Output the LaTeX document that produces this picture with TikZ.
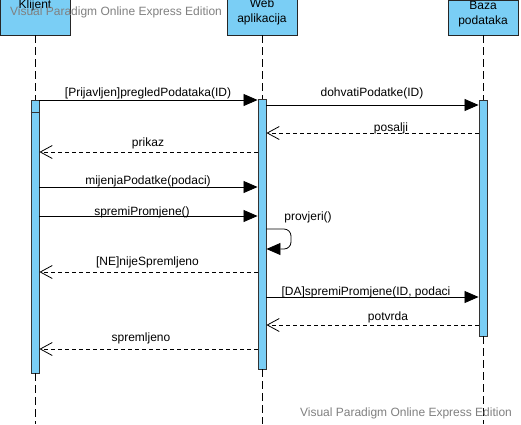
\documentclass[tikz,border=0pt]{standalone}
\usepackage{fontspec}
\setmainfont{Liberation Sans}
\usetikzlibrary{arrows.meta}
\definecolor{vpblue}{RGB}{122,206,245}
\definecolor{wmgray}{RGB}{128,128,128}
\tikzset{
  head/.style={draw=black!85, fill=vpblue, line width=0.9pt, minimum width=70pt, inner sep=0pt, font=\fontsize{12}{15}\selectfont, align=center},
  actbar/.style={draw=black!80, fill=vpblue, line width=0.9pt, minimum width=8pt, inner sep=0pt},
  lifeline/.style={line width=0.8pt, dash pattern=on 8pt off 4pt},
  callmsg/.style={line width=0.8pt, -{Triangle[length=14pt,width=12pt]}},
  replymsg/.style={line width=0.8pt, dash pattern=on 4pt off 3pt, -{Straight Barb[length=12pt,width=13pt,line width=0.8pt]}},
  lbl/.style={font=\fontsize{12}{15}\selectfont, inner sep=0pt},
  wm/.style={font=\fontsize{12}{15}\selectfont, text=wmgray, inner sep=0pt}
}
\begin{document}
\begin{tikzpicture}[x=1pt,y=-1pt]
\useasboundingbox (0,0) rectangle (521,424);
\clip (0,0) rectangle (521,424);
% lifelines
\coordinate (kend) at (35,424);
\coordinate (wend) at (262,424);
\coordinate (bend) at (483,424);
% heads
\node[head, minimum height=60pt] (klijent) at (35,5) {Klijent};
\node[head, minimum height=47pt] (web) at (262,11.5) {Web\\aplikacija};
\node[head, minimum height=35pt] (baza) at (483,17.5) {};
\node[lbl, align=center, font=\fontsize{12}{15}\selectfont] (bazat) at (483,14) {Baza\\podataka};
% activation bars
\node[actbar, minimum height=273pt] (ka) at (35,236.5) {};
\node[actbar, minimum height=270pt] (wa) at (262,234) {};
\node[actbar, minimum height=236pt] (ba) at (483,218) {};
\draw[lifeline] (klijent.south) -- (ka.north);
\draw[lifeline] (ka.south) -- (kend);
\draw[lifeline] (web.south) -- (wa.north);
\draw[lifeline] (wa.south) -- (wend);
\draw[lifeline] (baza.south) -- (ba.north);
\draw[lifeline] (ba.south) -- (bend);
\draw[line width=0.9pt, black!80] (ka.west |- 0,112) -- (ka.east |- 0,112);
% messages
\draw[callmsg] (ka.east |- 0,100) -- (wa.west |- 0,100);
\node[lbl] (m1) at (148,93.5) {[Prijavljen]pregledPodataka(ID)};
\draw[callmsg] (wa.east |- 0,105) -- (ba.west |- 0,105);
\node[lbl] (m2) at (372,93.5) {dohvatiPodatke(ID)};
\draw[replymsg] (ba.west |- 0,133) -- (wa.east |- 0,133);
\node[lbl] (m3) at (391,128.5) {posalji};
\draw[replymsg] (wa.west |- 0,152) -- (ka.east |- 0,152);
\node[lbl] (m4) at (148,143) {prikaz};
\draw[callmsg] (ka.east |- 0,187) -- (wa.west |- 0,187);
\node[lbl] (m5) at (148,181) {mijenjaPodatke(podaci)};
\draw[callmsg] (ka.east |- 0,216) -- (wa.west |- 0,216);
\node[lbl] (m6) at (142,212) {spremiPromjene()};
\coordinate (s1) at (291,229);
\coordinate (s2) at (291,249);
\draw[callmsg, rounded corners=7pt] (wa.east |- 0,229) -- (s1) -- (s2) -- (wa.east |- 0,249);
\node[lbl] (m7) at (308,217) {provjeri()};
\draw[replymsg] (wa.west |- 0,272) -- (ka.east |- 0,272);
\node[lbl] (m8) at (147.5,262) {[NE]nijeSpremljeno};
\draw[callmsg] (wa.east |- 0,297) -- (ba.west |- 0,297);
\node[lbl] (m9) at (366,292) {[DA]spremiPromjene(ID, podaci};
\draw[replymsg] (ba.west |- 0,325) -- (wa.east |- 0,325);
\node[lbl] (m10) at (388,317.5) {potvrda};
\draw[replymsg] (wa.west |- 0,349) -- (ka.east |- 0,349);
\node[lbl] (m11) at (141,338) {spremljeno};
% watermarks
\node[wm] (wm1) at (116,12) {Visual Paradigm Online Express Edition};
\node[wm] (wm2) at (406,413) {Visual Paradigm Online Express Edition};
\end{tikzpicture}
\end{document}
